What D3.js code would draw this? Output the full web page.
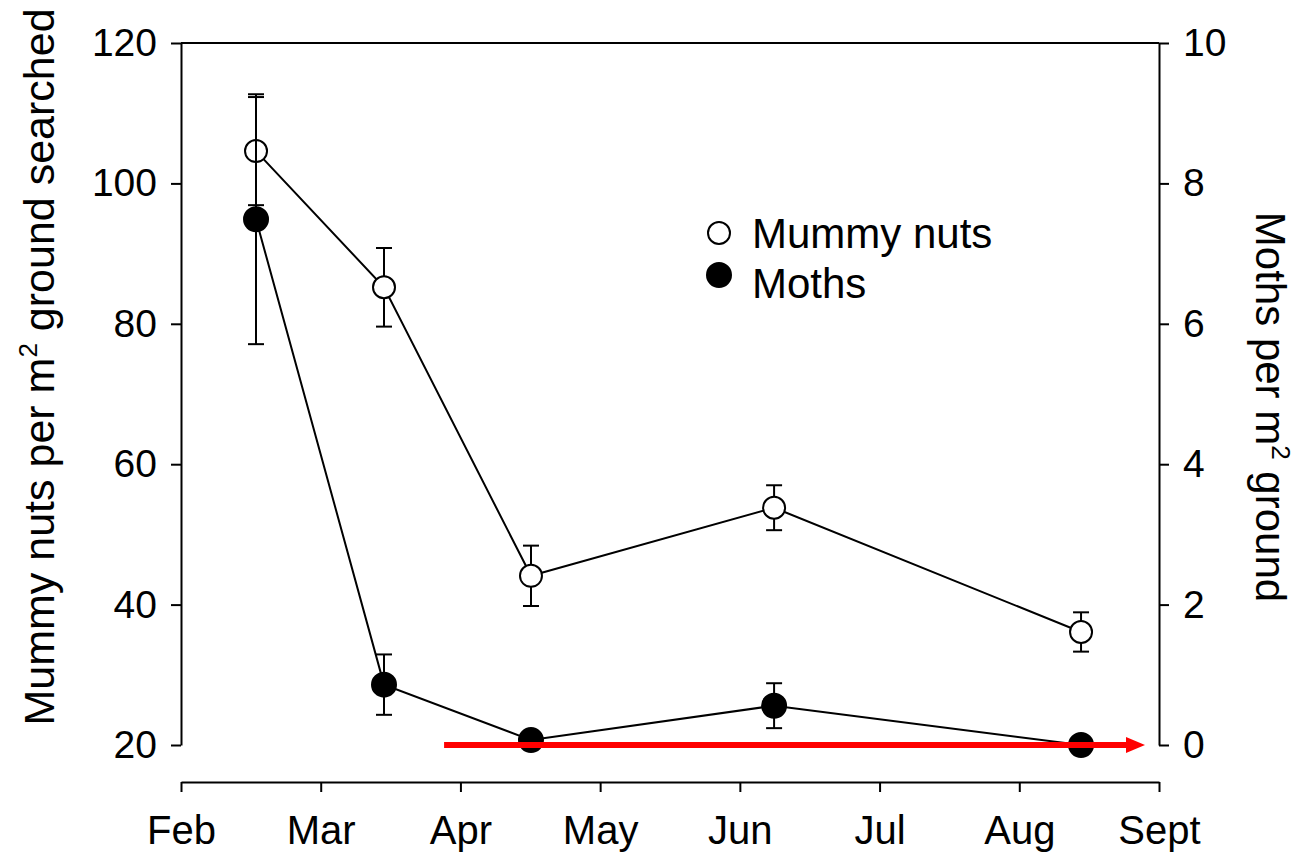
<!DOCTYPE html>
<meta charset="utf-8">
<style>
body { margin: 0; background: #fff; font-family: Arial, "Liberation Sans", sans-serif; }
.axis path, .axis line { fill: none; stroke: #000; stroke-width: 2; }
.axis text { font-family: Arial, "Liberation Sans", sans-serif; fill: #000; }
</style>
<body>
<script src="https://d3js.org/d3.v7.min.js"></script>
<script>

// month index: 0 = Feb ... 7 = Sept
var months = ["Feb", "Mar", "Apr", "May", "Jun", "Jul", "Aug", "Sept"];
var sampleMonth = [0.537, 1.453, 2.505, 4.245, 6.442];

var mummyNuts = [104.6, 85.2, 44.1, 53.8, 36.1];
var mummyErr  = [7.7, 5.6, 4.3, 3.2, 2.8];

var moths    = [7.49, 0.86, 0.07, 0.56, 0];
var mothsErr = [1.78, 0.43, 0, 0.32, 0];

var leftTicks  = [20, 40, 60, 80, 100, 120];
var rightTicks = [0, 2, 4, 6, 8, 10];

// red arrow on the moth zero line
var arrowFrom = 1.883, arrowTo = 6.90;

var W = 1298, H = 862;
var x0 = 181, x1 = 1159, yTop = 43, yBot = 745, xAxisY = 782;

var svg = d3.select("body").append("svg")
    .attr("width", W)
    .attr("height", H);

var x = d3.scaleLinear().domain([0, 7]).range([x0, x1]);
var yL = d3.scaleLinear().domain([20, 120]).range([yBot, yTop]);
var yR = d3.scaleLinear().domain([0, 10]).range([yBot, yTop]);

// left axis
var gl = svg.append("g").attr("class", "axis")
    .attr("transform", "translate(" + x0 + ",0)")
    .call(d3.axisLeft(yL).tickValues(leftTicks).tickSize(10).tickSizeOuter(0).tickPadding(14));
gl.selectAll("text").style("font-size", "39px");

// right axis
var gr = svg.append("g").attr("class", "axis")
    .attr("transform", "translate(" + x1 + ",0)")
    .call(d3.axisRight(yR).tickValues(rightTicks).tickSize(10).tickSizeOuter(0).tickPadding(14));
gr.selectAll("text").style("font-size", "39px");

// top frame line
svg.append("line")
    .attr("x1", x0).attr("x2", x1)
    .attr("y1", yTop).attr("y2", yTop)
    .attr("stroke", "#000").attr("stroke-width", 2);

// bottom (month) axis, offset below the plot
var gx = svg.append("g").attr("class", "axis")
    .attr("transform", "translate(0," + xAxisY + ")")
    .call(d3.axisBottom(x).tickValues(d3.range(8)).tickSize(10).tickSizeOuter(0).tickPadding(24)
        .tickFormat(function(d){ return months[d]; }));
gx.selectAll("text").style("font-size", "40px");

// axis titles
svg.append("text")
    .attr("transform", "translate(54,367) rotate(-90)")
    .attr("text-anchor", "middle")
    .style("font-size", "43px")
    .html('Mummy nuts per m<tspan dy="-17" font-size="26px">2</tspan><tspan dy="17"> ground searched</tspan>');

svg.append("text")
    .attr("transform", "translate(1256,407) rotate(90)")
    .attr("text-anchor", "middle")
    .style("font-size", "42px")
    .html('Moths per m<tspan dy="-16" font-size="26px">2</tspan><tspan dy="16"> ground</tspan>');

function drawSeries(vals, errs, y, fill, r) {
    var pts = vals.map(function(v, i){ return [x(sampleMonth[i]), y(v), errs[i]]; });

    svg.append("path")
        .datum(pts)
        .attr("fill", "none")
        .attr("stroke", "#000")
        .attr("stroke-width", 2)
        .attr("d", d3.line());

    var eb = svg.append("g").selectAll("g")
        .data(vals.map(function(v, i){ return {m: sampleMonth[i], v: v, e: errs[i]}; })
            .filter(function(d){ return d.e > 0; }))
        .enter().append("g")
        .attr("stroke", "#000").attr("stroke-width", 2);
    eb.append("line")
        .attr("x1", function(d){ return x(d.m); })
        .attr("x2", function(d){ return x(d.m); })
        .attr("y1", function(d){ return y(d.v + d.e); })
        .attr("y2", function(d){ return y(d.v - d.e); });
    eb.append("line")
        .attr("x1", function(d){ return x(d.m) - 8; })
        .attr("x2", function(d){ return x(d.m) + 8; })
        .attr("y1", function(d){ return y(d.v + d.e); })
        .attr("y2", function(d){ return y(d.v + d.e); });
    eb.append("line")
        .attr("x1", function(d){ return x(d.m) - 8; })
        .attr("x2", function(d){ return x(d.m) + 8; })
        .attr("y1", function(d){ return y(d.v - d.e); })
        .attr("y2", function(d){ return y(d.v - d.e); });

    svg.append("g").selectAll("circle")
        .data(pts)
        .enter().append("circle")
        .attr("cx", function(d){ return d[0]; })
        .attr("cy", function(d){ return d[1]; })
        .attr("r", r)
        .attr("fill", fill)
        .attr("stroke", "#000")
        .attr("stroke-width", 2);
}

drawSeries(mummyNuts, mummyErr, yL, "#fff", 11);
drawSeries(moths, mothsErr, yR, "#000", 12);

// red arrow
var ay = yR(0), ax0 = x(arrowFrom), ax1 = x(arrowTo);
svg.append("line")
    .attr("x1", ax0).attr("x2", ax1 - 16)
    .attr("y1", ay).attr("y2", ay)
    .attr("stroke", "#ff0000").attr("stroke-width", 6);
svg.append("path")
    .attr("d", "M" + (ax1 - 19) + "," + (ay - 8) + "L" + ax1 + "," + ay + "L" + (ax1 - 19) + "," + (ay + 8) + "Z")
    .attr("fill", "#ff0000");

// legend
var legend = [{label: "Mummy nuts", fill: "#fff", r: 11}, {label: "Moths", fill: "#000", r: 12}];
var legendCy = [233, 275], legendBase = [248, 298];
var lg = svg.append("g");
lg.selectAll("circle").data(legend).enter().append("circle")
    .attr("cx", 719).attr("cy", function(d, i){ return legendCy[i]; })
    .attr("r", function(d){ return d.r; })
    .attr("fill", function(d){ return d.fill; })
    .attr("stroke", "#000").attr("stroke-width", 2);
lg.selectAll("text").data(legend).enter().append("text")
    .attr("x", 752)
    .attr("y", function(d, i){ return legendBase[i]; })
    .style("font-size", "42px")
    .text(function(d){ return d.label; });

</script>
</body>
